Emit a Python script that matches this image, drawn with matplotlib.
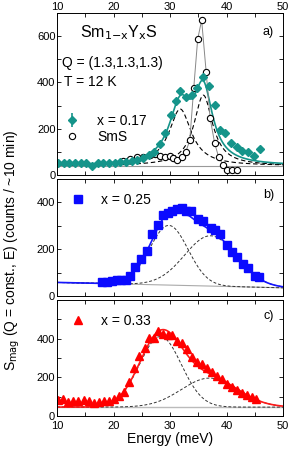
import numpy as np
import matplotlib
matplotlib.use('Agg')
import matplotlib.pyplot as plt
from matplotlib.ticker import MultipleLocator, FuncFormatter

plt.rcParams['font.family'] = ['Liberation Sans', 'DejaVu Sans']
plt.rcParams['font.size'] = 8

# panel a: x = 0.17 (teal diamonds) and SmS (open circles)
e_a = [10.2, 11.2, 12.2, 13.2, 14.2, 15.2, 16.2, 17.2, 18.2, 19.2, 20.2, 21.2, 22.2,
       23.2, 24.2, 25.2, 26.2, 27.2, 28.2, 29.2, 30.2, 31.0, 31.8, 32.9, 33.9, 34.8,
       35.9, 36.9, 38.0, 38.8, 39.7, 40.8, 41.8, 42.8, 43.8, 44.9, 45.9]
i_a = [52, 50, 52, 50, 52, 50, 40, 50, 52, 52, 54, 57, 58, 62, 66, 72, 85, 100, 135,
       180, 260, 320, 365, 337, 345, 375, 423, 384, 302, 194, 183, 140, 121, 105, 99,
       84, 112]
e_sms = [21.7, 22.9, 24.2, 25.2, 26.5, 27.3, 28.2, 29.1, 30.0, 30.6, 31.3, 32.1, 32.8,
         33.5, 34.2, 34.9, 35.6, 36.4, 37.1, 37.9, 38.6, 39.4, 40.1, 41.0, 41.9]
i_sms = [62, 68, 76, 78, 85, 90, 82, 78, 80, 73, 65, 78, 100, 150, 375, 587, 669, 445,
         246, 138, 78, 43, 22, 22, 22]
bg_a = 40
# fit components: (amplitude, centre, half width)
peaks_a = [(245, 31.8, 2.4), (305, 35.9, 2.0)]

# panel b: x = 0.25
e_b = [17.9, 18.8, 19.7, 20.6, 21.4, 22.2, 22.9, 23.8, 24.9, 25.9, 26.9, 27.9, 28.8,
       29.6, 30.4, 31.2, 32.1, 32.9, 33.8, 35.0, 35.8, 37.2, 38.0, 38.8, 40.0, 40.9,
       41.8, 43.0, 43.8, 45.0, 45.8]
i_b = [61, 58, 65, 68, 70, 70, 87, 123, 159, 191, 264, 304, 348, 355, 362, 370, 374,
       365, 365, 330, 322, 290, 283, 264, 217, 190, 167, 135, 120, 84, 80]
bg_b = (58, 35)  # background at 10 and 50 meV
peaks_b = [(255, 29.8, 3.4), (215, 37.2, 4.6)]

# panel c: x = 0.33
e_c = [10.2, 11.0, 12.0, 12.9, 13.8, 14.7, 15.6, 16.5, 17.4, 18.3, 19.2, 20.1, 21.0,
       21.9, 22.8, 23.7, 24.6, 25.5, 26.3, 27.1, 27.9, 28.8, 29.6, 30.4, 31.3, 32.2,
       33.0, 33.9, 34.8, 35.6, 36.5, 37.4, 38.3, 39.2, 40.0, 40.9, 41.8, 42.7, 43.6,
       44.5, 45.3]
i_c = [82, 90, 73, 80, 78, 85, 77, 65, 73, 77, 77, 88, 105, 124, 175, 250, 310, 350,
       405, 405, 440, 425, 420, 418, 390, 380, 345, 305, 280, 268, 250, 228, 205, 190,
       168, 150, 135, 117, 108, 100, 88]
bg_c = 46
peaks_c = [(365, 28.3, 3.7), (150, 37.0, 5.0)]

teal = '#15948a'
E = np.linspace(10, 50, 400)


def lor(p):
    a, c, g = p
    return a * g**2 / ((E - c)**2 + g**2)


def gau(p):
    a, c, s = p
    return a * np.exp(-(E - c)**2 / (2 * s**2))


fig = plt.figure(figsize=(2.91, 4.59), dpi=100)
L, W = 57 / 291, 226 / 291
ax_a = fig.add_axes([L, 1 - 175 / 459, W, 162 / 459])
ax_b = fig.add_axes([L, 1 - 296 / 459, W, 117 / 459])
ax_c = fig.add_axes([L, 1 - 416 / 459, W, 116 / 459])

# panel a
ax_a.axhline(bg_a, color='#999999', lw=0.8)
for p in peaks_a:
    ax_a.plot(E, bg_a + lor(p), color='k', ls=(0, (4, 2.5)), lw=0.8)
ax_a.plot(E, bg_a + lor(peaks_a[0]) + lor(peaks_a[1]), color=teal, lw=1.2)
ax_a.plot(e_sms, i_sms, color='#888888', lw=0.7)
ax_a.plot(e_sms, i_sms, 'o', mfc='white', mec='k', ms=4.5, mew=0.8, label='SmS')
ax_a.errorbar(e_a, i_a, yerr=12, fmt='D', color=teal, ms=4.5, elinewidth=1.2,
              capsize=0, label='x = 0.17')
h, l = ax_a.get_legend_handles_labels()
ax_a.legend(h[::-1], l[::-1], loc='upper left', bbox_to_anchor=(0.0, 0.43),
            frameon=False, fontsize=10, handlelength=1.0, handletextpad=1.3,
            labelspacing=0.15, borderaxespad=0.2)
ax_a.set_ylim(0, 700)
ax_a.text(0.1, 0.88, r'Sm$_{1\mathrm{-x}}$Y$_\mathrm{x}$S', transform=ax_a.transAxes,
          fontsize=11.5, va='center')
ax_a.text(0.02, 0.69, 'Q = (1.3,1.3,1.3)', transform=ax_a.transAxes, fontsize=10,
          va='center')
ax_a.text(0.03, 0.575, 'T = 12 K', transform=ax_a.transAxes, fontsize=10, va='center')
ax_a.text(0.96, 0.88, 'a)', transform=ax_a.transAxes, fontsize=9, ha='right',
          va='center')

# panel b
bgb = np.interp(E, [10, 50], bg_b)
ax_b.plot(E, bgb, color='#aaaaaa', lw=0.8)
for p in peaks_b:
    ax_b.plot(E, bgb + gau(p), color='#333333', ls=(0, (3, 2)), lw=0.7)
ax_b.plot(E, bgb + gau(peaks_b[0]) + gau(peaks_b[1]), color='#1515ff', lw=1.2)
ax_b.plot(e_b, i_b, 's', color='#0a0aff', ms=5.5, label='x = 0.25')
ax_b.legend(loc='upper left', frameon=False, fontsize=10, handlelength=1.0,
            handletextpad=1.2, borderaxespad=0.6)
ax_b.set_ylim(0, 500)
ax_b.text(0.96, 0.86, 'b)', transform=ax_b.transAxes, fontsize=9, ha='right',
          va='center')

# panel c
ax_c.axhline(bg_c, color='#bbbbbb', lw=1.0)
for p in peaks_c:
    ax_c.plot(E, bg_c + gau(p), color='#333333', ls=(0, (3, 2)), lw=0.7)
ax_c.plot(E, bg_c + gau(peaks_c[0]) + gau(peaks_c[1]), color='#ff1a1a', lw=1.2)
ax_c.plot(e_c, i_c, '^', color='#ff0000', ms=6, label='x = 0.33')
ax_c.legend(loc='upper left', frameon=False, fontsize=10, handlelength=1.0,
            handletextpad=1.2, borderaxespad=0.6)
ax_c.set_ylim(0, 600)
ax_c.text(0.96, 0.86, 'c)', transform=ax_c.transAxes, fontsize=9, ha='right',
          va='center')
ax_c.set_xlabel('Energy (meV)', fontsize=10, labelpad=1)

for ax, top in ((ax_a, 600), (ax_b, 400), (ax_c, 400)):
    ax.set_xlim(10, 50)
    ax.xaxis.set_major_locator(MultipleLocator(10))
    ax.xaxis.set_minor_locator(MultipleLocator(5))
    ax.yaxis.set_major_locator(MultipleLocator(100))
    ax.yaxis.set_major_formatter(FuncFormatter(
        lambda v, pos, top=top: '%d' % v if v % 200 == 0 and v <= top else ''))
    ax.tick_params(which='both', direction='in', top=True, right=True, length=3,
                   width=0.6, labelsize=8, pad=1.5)
    for s in ax.spines.values():
        s.set_linewidth(0.7)
ax_a.tick_params(labelbottom=False, labeltop=True, pad=1)
ax_b.tick_params(labelbottom=False)
ax_c.tick_params(axis='x', pad=3.5)

fig.text(12 / 291, 1 - 250 / 459,
         r'S$_\mathrm{mag}$ (Q = const., E) (counts / ~10 min)',
         rotation=90, fontsize=10, ha='center', va='center')

fig.savefig('out.png', dpi=100)
